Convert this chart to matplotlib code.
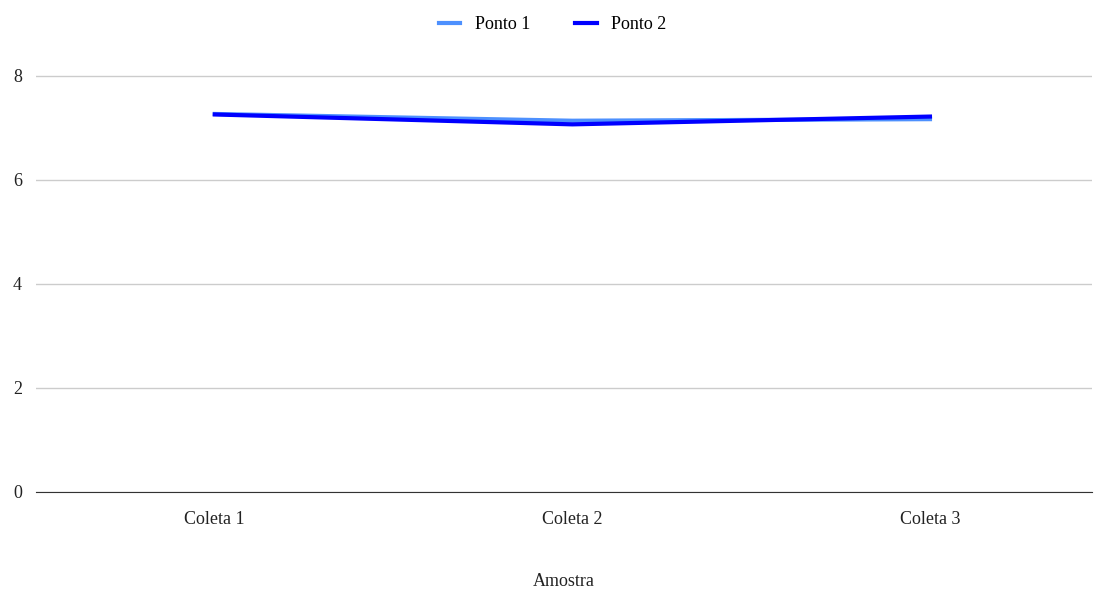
import matplotlib.pyplot as plt

amostras = ["Coleta 1", "Coleta 2", "Coleta 3"]
ponto_1 = [7.27, 7.14, 7.17]
ponto_2 = [7.26, 7.07, 7.22]

plt.rcParams['font.family'] = ['Liberation Serif', 'DejaVu Serif']

fig = plt.figure(figsize=(11.05, 5.95), dpi=100)
ax = fig.add_axes([36 / 1105, 1 - 492 / 595, (1092 - 36) / 1105, (492 - 55) / 595])

x = range(len(amostras))
ax.plot(x, ponto_1, color="#4d90fe", linewidth=3, label="Ponto 1")
ax.plot(x, ponto_2, color="#0000ff", linewidth=3, label="Ponto 2")

ax.set_xlim(-0.5, 2 + 162 / 357.5)
ax.set_ylim(0, 8 * (492 - 55) / (492 - 76))
ax.set_yticks([0, 2, 4, 6, 8])
ax.set_xticks(list(x))
ax.set_xticklabels(amostras)
ax.tick_params(axis='both', length=0, labelsize=13, colors="#222222")
ax.tick_params(axis='y', pad=10)
ax.tick_params(axis='x', pad=14)
ax.grid(axis='y', color="#cccccc", linewidth=1)
ax.set_axisbelow(True)
for s in ["top", "right", "left"]:
    ax.spines[s].set_visible(False)
ax.spines["bottom"].set_color("#333333")
ax.set_xlabel("Amostra", fontsize=13, labelpad=32, color="#222222")

fig.legend(loc="upper center", bbox_to_anchor=(0.5, 1.0), ncol=2, frameon=False,
           fontsize=13, handlelength=1.2, columnspacing=2.5)

fig.savefig("out.png", dpi=100)
